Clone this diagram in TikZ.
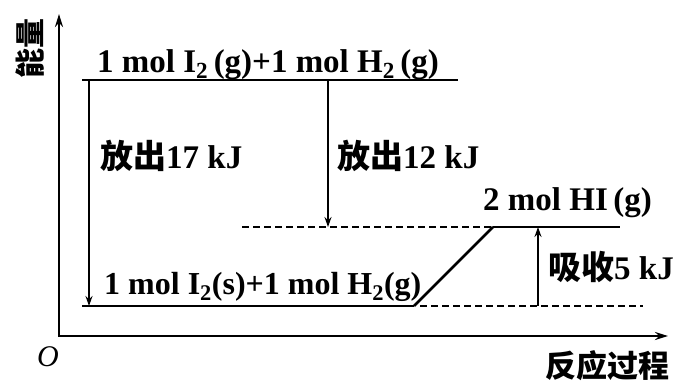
\documentclass[tikz,border=0pt]{standalone}
\usepackage{fontspec}
\setmainfont{Liberation Serif}
\newfontfamily\cjk{Noto Sans CJK SC}
\usetikzlibrary{arrows.meta}
\newcommand{\sub}[1]{\textsubscript{#1}}
\begin{document}
\begin{tikzpicture}[x=1pt,y=-1pt,
  lbl/.style={inner sep=0pt, font=\fontsize{33}{38}\selectfont\bfseries},
  cnlbl/.style={inner sep=0pt, font=\fontsize{31}{36}\selectfont\cjk\bfseries},
  level/.style={line width=2.6pt},
  dashlevel/.style={line width=2.2pt, dash pattern=on 7pt off 4pt},
  gap/.style={line width=1.8pt, -{Stealth[length=10pt,width=7pt]}},
  axis/.style={line width=2.2pt, -{Stealth[length=13pt,width=8pt]}}]
\useasboundingbox (0,0) rectangle (677,383);

% axes
\coordinate (O) at (59,336);
\coordinate (Ox) at (58,336);
\coordinate (ytip) at (59,14);
\coordinate (xtip) at (668,336);
\draw[axis] (O) -- (ytip);
\draw[axis] (Ox) -- (xtip);
\node[cnlbl, rotate=90, font=\fontsize{30}{34}\selectfont\cjk\bfseries] (ylab) at (30,48) {能量};
\node[cnlbl, anchor=west, font=\fontsize{31}{34}\selectfont\cjk\bfseries] (xlab) at (545,366) {反应过程};
\node[lbl, font=\fontsize{30}{34}\selectfont\itshape] (olab) at (48,357) {O};

% energy levels
\coordinate (topL) at (82,80);
\coordinate (topR) at (458,80);
\coordinate (midL) at (242,227);
\coordinate (midK) at (493,227);
\coordinate (midR) at (620,227);
\coordinate (botL) at (82,306);
\coordinate (botK) at (414,306);
\coordinate (botD) at (420,306);
\coordinate (botR) at (643,306);

\draw[level] (topL) -- (topR);
\draw[dashlevel] (midL) -- (midK);
\draw[level] (midK) -- (midR);
\draw[level] (botL) -- (botK);
\draw[level] (botK) -- (midK);
\draw[dashlevel] (botD) -- (botR);

% energy differences
\coordinate (a1s) at (89,80);
\coordinate (a1e) at (89,306);
\coordinate (a2s) at (328,80);
\coordinate (a2e) at (328,227);
\coordinate (a3s) at (538,306);
\coordinate (a3e) at (538,227);
\draw[gap] (a1s) -- (a1e);
\draw[gap] (a2s) -- (a2e);
\draw[gap] (a3s) -- (a3e);

% labels
\node[lbl, anchor=base west] (top) at (97,72) {1 mol I\sub{2}\,(g)+1 mol H\sub{2}\,(g)};
\node[lbl, anchor=base west, font=\fontsize{32}{38}\selectfont\bfseries] (bot) at (104,294) {1 mol I\sub{2}(s)+1 mol H\sub{2}(g)};
\node[lbl, anchor=base west] (hi) at (483,210) {2 mol HI\,(g)};
\node[lbl, anchor=base west] (q1) at (100,168) {{\cjk 放出}17 kJ};
\node[lbl, anchor=base west] (q2) at (337,168) {{\cjk 放出}12 kJ};
\node[lbl, anchor=base west] (q3) at (548,279) {{\cjk 吸收}5 kJ};
\end{tikzpicture}
\end{document}
